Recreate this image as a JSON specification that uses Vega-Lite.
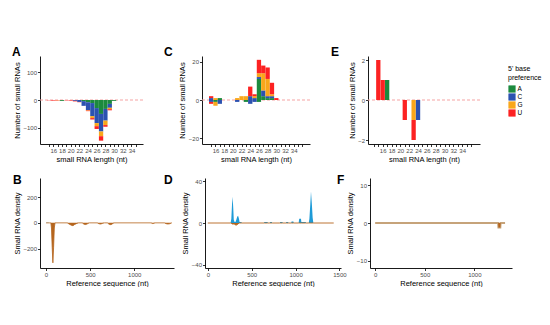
{
  "$schema": "https://vega.github.io/schema/vega-lite/v6.json",
  "background": "white",
  "padding": {"left": 12, "top": 46, "right": 0, "bottom": 0},
  "spacing": 11,
  "datasets": {
    "A": [
      {"len": 15, "base": "U", "n": -1},
      {"len": 16, "base": "U", "n": -2},
      {"len": 17, "base": "G", "n": -1},
      {"len": 17, "base": "U", "n": -1},
      {"len": 18, "base": "A", "n": -3},
      {"len": 19, "base": "U", "n": -1},
      {"len": 20, "base": "U", "n": -2},
      {"len": 21, "base": "C", "n": -3},
      {"len": 21, "base": "U", "n": -2},
      {"len": 22, "base": "C", "n": -7},
      {"len": 22, "base": "U", "n": -1},
      {"len": 23, "base": "A", "n": -4},
      {"len": 23, "base": "C", "n": -17},
      {"len": 24, "base": "A", "n": -8},
      {"len": 24, "base": "C", "n": -28},
      {"len": 24, "base": "G", "n": -2},
      {"len": 24, "base": "U", "n": -2},
      {"len": 25, "base": "A", "n": -11},
      {"len": 25, "base": "C", "n": -47},
      {"len": 25, "base": "G", "n": -7},
      {"len": 25, "base": "U", "n": -5},
      {"len": 26, "base": "A", "n": -29},
      {"len": 26, "base": "C", "n": -54},
      {"len": 26, "base": "G", "n": -11},
      {"len": 26, "base": "U", "n": -10},
      {"len": 27, "base": "A", "n": -50},
      {"len": 27, "base": "C", "n": -63},
      {"len": 27, "base": "G", "n": -17},
      {"len": 27, "base": "U", "n": -16},
      {"len": 28, "base": "A", "n": -32},
      {"len": 28, "base": "C", "n": -42},
      {"len": 28, "base": "G", "n": -16},
      {"len": 28, "base": "U", "n": -6},
      {"len": 29, "base": "A", "n": -14},
      {"len": 29, "base": "C", "n": -14},
      {"len": 29, "base": "G", "n": -5},
      {"len": 29, "base": "U", "n": -4},
      {"len": 30, "base": "A", "n": -3}
    ],
    "C": [
      {"len": 15, "base": "C", "n": 1},
      {"len": 15, "base": "U", "n": 1},
      {"len": 15, "base": "C", "n": -1},
      {"len": 15, "base": "U", "n": -1},
      {"len": 16, "base": "G", "n": 1},
      {"len": 16, "base": "A", "n": -1},
      {"len": 16, "base": "G", "n": -2},
      {"len": 17, "base": "A", "n": 1},
      {"len": 17, "base": "C", "n": -2},
      {"len": 21, "base": "G", "n": 1},
      {"len": 21, "base": "C", "n": -1},
      {"len": 22, "base": "G", "n": 2},
      {"len": 23, "base": "G", "n": 2},
      {"len": 23, "base": "A", "n": -1},
      {"len": 24, "base": "C", "n": 2},
      {"len": 24, "base": "U", "n": 5},
      {"len": 24, "base": "C", "n": -2},
      {"len": 25, "base": "C", "n": 1},
      {"len": 25, "base": "G", "n": 1},
      {"len": 25, "base": "U", "n": 1},
      {"len": 25, "base": "C", "n": -1},
      {"len": 26, "base": "A", "n": 11},
      {"len": 26, "base": "C", "n": 1},
      {"len": 26, "base": "G", "n": 2},
      {"len": 26, "base": "U", "n": 7},
      {"len": 26, "base": "A", "n": -1},
      {"len": 27, "base": "A", "n": 2},
      {"len": 27, "base": "C", "n": 3},
      {"len": 27, "base": "G", "n": 9},
      {"len": 27, "base": "U", "n": 4},
      {"len": 28, "base": "A", "n": 1},
      {"len": 28, "base": "C", "n": 1},
      {"len": 28, "base": "G", "n": 9},
      {"len": 28, "base": "U", "n": 6},
      {"len": 29, "base": "A", "n": 1},
      {"len": 29, "base": "C", "n": 1},
      {"len": 29, "base": "G", "n": 1},
      {"len": 29, "base": "U", "n": 6},
      {"len": 30, "base": "U", "n": 1}
    ],
    "E": [
      {"len": 15, "base": "U", "n": 2},
      {"len": 16, "base": "U", "n": 1},
      {"len": 17, "base": "A", "n": 1},
      {"len": 21, "base": "U", "n": -1},
      {"len": 23, "base": "G", "n": -1},
      {"len": 23, "base": "U", "n": -1},
      {"len": 24, "base": "C", "n": -1}
    ],
    "B": [
      {"x": 0, "pos": 0, "neg": 0},
      {"x": 10, "pos": 3, "neg": 0},
      {"x": 25, "pos": 2, "neg": 0},
      {"x": 40, "pos": 0, "neg": 0},
      {"x": 55, "pos": 0, "neg": 0},
      {"x": 62, "pos": 0, "neg": -40},
      {"x": 70, "pos": 0, "neg": -190},
      {"x": 78, "pos": 0, "neg": -312},
      {"x": 86, "pos": 0, "neg": -190},
      {"x": 94, "pos": 0, "neg": -40},
      {"x": 102, "pos": 0, "neg": 0},
      {"x": 240, "pos": 0, "neg": 0},
      {"x": 260, "pos": 0, "neg": -8},
      {"x": 285, "pos": 0, "neg": -18},
      {"x": 305, "pos": 0, "neg": -22},
      {"x": 325, "pos": 0, "neg": -12},
      {"x": 350, "pos": 0, "neg": -4},
      {"x": 370, "pos": 0, "neg": 0},
      {"x": 410, "pos": 0, "neg": 0},
      {"x": 430, "pos": 0, "neg": -10},
      {"x": 450, "pos": 0, "neg": -13},
      {"x": 470, "pos": 0, "neg": -7},
      {"x": 490, "pos": 0, "neg": 0},
      {"x": 580, "pos": 0, "neg": 0},
      {"x": 600, "pos": 0, "neg": -7},
      {"x": 620, "pos": 0, "neg": -9},
      {"x": 640, "pos": 0, "neg": -4},
      {"x": 660, "pos": 0, "neg": 0},
      {"x": 695, "pos": 0, "neg": 0},
      {"x": 715, "pos": 0, "neg": -11},
      {"x": 735, "pos": 0, "neg": -14},
      {"x": 755, "pos": 0, "neg": -6},
      {"x": 770, "pos": 0, "neg": 0},
      {"x": 1190, "pos": 0, "neg": 0},
      {"x": 1205, "pos": 0, "neg": -5},
      {"x": 1220, "pos": 0, "neg": -4},
      {"x": 1235, "pos": 0, "neg": 0},
      {"x": 1340, "pos": 0, "neg": 0},
      {"x": 1360, "pos": 0, "neg": -6},
      {"x": 1380, "pos": 0, "neg": -9},
      {"x": 1400, "pos": 0, "neg": -7},
      {"x": 1415, "pos": 0, "neg": -3},
      {"x": 1425, "pos": 0, "neg": 0}
    ],
    "D": [
      {"x": 0, "pos": 0, "neg": 0},
      {"x": 260, "pos": 0, "neg": 0},
      {"x": 268, "pos": 4, "neg": 0},
      {"x": 276, "pos": 18, "neg": -1},
      {"x": 283, "pos": 25, "neg": -1},
      {"x": 290, "pos": 14, "neg": -1},
      {"x": 296, "pos": 3, "neg": -1},
      {"x": 305, "pos": 1, "neg": -1},
      {"x": 315, "pos": 1, "neg": -2},
      {"x": 325, "pos": 3, "neg": -2},
      {"x": 335, "pos": 6, "neg": -1.5},
      {"x": 345, "pos": 7, "neg": -1},
      {"x": 355, "pos": 4, "neg": 0},
      {"x": 362, "pos": 1, "neg": 0},
      {"x": 380, "pos": 1, "neg": 0},
      {"x": 390, "pos": 0, "neg": 0},
      {"x": 640, "pos": 0, "neg": 0},
      {"x": 645, "pos": 1, "neg": 0},
      {"x": 680, "pos": 1, "neg": 0},
      {"x": 685, "pos": 0, "neg": 0},
      {"x": 705, "pos": 0, "neg": 0},
      {"x": 710, "pos": 1, "neg": 0},
      {"x": 730, "pos": 1, "neg": 0},
      {"x": 735, "pos": 0, "neg": 0},
      {"x": 820, "pos": 0, "neg": 0},
      {"x": 825, "pos": 1, "neg": 0},
      {"x": 850, "pos": 1, "neg": 0},
      {"x": 855, "pos": 0, "neg": 0},
      {"x": 890, "pos": 0, "neg": 0},
      {"x": 895, "pos": 1, "neg": 0},
      {"x": 915, "pos": 1, "neg": 0},
      {"x": 920, "pos": 0, "neg": 0},
      {"x": 950, "pos": 0, "neg": 0},
      {"x": 955, "pos": 1.5, "neg": 0},
      {"x": 975, "pos": 1.5, "neg": 0},
      {"x": 980, "pos": 0, "neg": 0},
      {"x": 1035, "pos": 0, "neg": 0},
      {"x": 1042, "pos": 4, "neg": 0},
      {"x": 1062, "pos": 4, "neg": 0},
      {"x": 1066, "pos": 1, "neg": 0},
      {"x": 1115, "pos": 1, "neg": 0},
      {"x": 1120, "pos": 0, "neg": 0},
      {"x": 1150, "pos": 0, "neg": 0},
      {"x": 1158, "pos": 4, "neg": 0},
      {"x": 1168, "pos": 18, "neg": 0},
      {"x": 1176, "pos": 30, "neg": 0},
      {"x": 1186, "pos": 18, "neg": 0},
      {"x": 1195, "pos": 5, "neg": 0},
      {"x": 1203, "pos": 0, "neg": 0},
      {"x": 1435, "pos": 0, "neg": 0}
    ],
    "F": [
      {"x": 0, "pos": 0, "neg": 0},
      {"x": 1240, "pos": 0, "neg": 0},
      {"x": 1243, "pos": 0, "neg": -1.2},
      {"x": 1262, "pos": 0, "neg": -1.2},
      {"x": 1265, "pos": 0, "neg": 0},
      {"x": 1310, "pos": 0, "neg": 0}
    ],
    "zero": [{"y": 0}]
  },
  "config": {
    "view": {"stroke": null},
    "font": "Liberation Sans",
    "axis": {
      "domainColor": "#000", "domainWidth": 0.9,
      "tickColor": "#000", "tickWidth": 0.8, "tickSize": 2.5,
      "labelFont": "Liberation Sans", "labelFontSize": 6, "labelColor": "#4d4d4d", "labelPadding": 1,
      "titleFont": "Liberation Sans", "titleFontSize": 7.5, "titleFontWeight": "normal", "titleColor": "#000", "titlePadding": 1.5,
      "grid": false
    },
    "title": {"font": "Liberation Sans", "fontSize": 12, "fontWeight": "bold", "anchor": "start", "frame": "group", "offset": 2, "color": "#000"}
  },
  "vconcat": [
    {
      "spacing": 20,
      "hconcat": [
        {
          "width": 103, "height": 88,
          "title": {"text": "A", "dx": -28, "dy": 5},
          "layer": [
            {"data": {"name": "zero"}, "mark": {"type": "rule", "color": "#f5a3a3", "strokeDash": [3, 2], "strokeWidth": 1}, "encoding": {"y": {"field": "y", "type": "quantitative"}}},
            {
              "data": {"name": "A"},
              "mark": {"type": "bar", "size": 4.3},
              "encoding": {
                "x": {"field": "len", "type": "quantitative", "scale": {"domain": [14.1, 35.5], "nice": false, "zero": false},
                  "axis": {"title": "small RNA length (nt)", "values": [15,16,17,18,19,20,21,22,23,24,25,26,27,28,29,30,31,32,33,34,35], "labelOverlap": false,
                    "labelExpr": "datum.value % 2 == 0 && datum.value >= 16 && datum.value <= 34 ? datum.label : ''"}},
                "y": {"field": "n", "type": "quantitative", "stack": "zero", "scale": {"domain": [-158, 158], "nice": false},
                  "axis": {"title": "Number of small RNAs", "values": [-100, 0, 100]}},
                "color": {"field": "base", "type": "nominal", "scale": {"domain": ["A", "C", "G", "U"], "range": ["#1c8a3e", "#2b52b0", "#f9a71b", "#fc2222"]},
                  "legend": {"orient": "none", "legendX": 468, "legendY": 9, "title": ["5' base", "preference"], "titleFontSize": 7, "titleFontWeight": "normal", "titleColor": "#000", "titlePadding": 4, "titleLineHeight": 9, "labelFontSize": 6.5, "labelColor": "#000", "labelOffset": 1.5, "symbolType": "square", "symbolSize": 52, "symbolStrokeWidth": 0, "symbolOpacity": 1, "rowPadding": 0, "padding": 0}},
                "order": {"field": "base", "sort": "ascending"}
              }
            }
          ]
        },
        {
          "width": 108, "height": 88,
          "title": {"text": "C", "dx": -38, "dy": 5},
          "layer": [
            {"data": {"name": "zero"}, "mark": {"type": "rule", "color": "#f5a3a3", "strokeDash": [3, 2], "strokeWidth": 1}, "encoding": {"y": {"field": "y", "type": "quantitative"}}},
            {
              "data": {"name": "C"},
              "mark": {"type": "bar", "size": 4.3},
              "encoding": {
                "x": {"field": "len", "type": "quantitative", "scale": {"domain": [14.05, 36.6], "nice": false, "zero": false},
                  "axis": {"title": "small RNA length (nt)", "values": [15,16,17,18,19,20,21,22,23,24,25,26,27,28,29,30,31,32,33,34,35,36], "labelOverlap": false,
                    "labelExpr": "datum.value % 2 == 0 && datum.value >= 16 && datum.value <= 34 ? datum.label : ''"}},
                "y": {"field": "n", "type": "quantitative", "stack": "zero", "scale": {"domain": [-23, 23], "nice": false},
                  "axis": {"title": "Number of small RNAs", "values": [-20, -10, 0, 10, 20]}},
                "color": {"field": "base", "type": "nominal", "scale": {"domain": ["A", "C", "G", "U"], "range": ["#1c8a3e", "#2b52b0", "#f9a71b", "#fc2222"]},
                  "legend": {"orient": "none", "legendX": 468, "legendY": 9, "title": ["5' base", "preference"], "titleFontSize": 7, "titleFontWeight": "normal", "titleColor": "#000", "titlePadding": 4, "titleLineHeight": 9, "labelFontSize": 6.5, "labelColor": "#000", "labelOffset": 1.5, "symbolType": "square", "symbolSize": 52, "symbolStrokeWidth": 0, "symbolOpacity": 1, "rowPadding": 0, "padding": 0}},
                "order": {"field": "base", "sort": "ascending"}
              }
            }
          ]
        },
        {
          "width": 112, "height": 88,
          "title": {"text": "E", "dx": -37, "dy": 5},
          "layer": [
            {"data": {"name": "zero"}, "mark": {"type": "rule", "color": "#f5a3a3", "strokeDash": [3, 2], "strokeWidth": 1}, "encoding": {"y": {"field": "y", "type": "quantitative"}}},
            {
              "data": {"name": "E"},
              "mark": {"type": "bar", "size": 4.3},
              "encoding": {
                "x": {"field": "len", "type": "quantitative", "scale": {"domain": [13.8, 36.9], "nice": false, "zero": false},
                  "axis": {"title": "small RNA length (nt)", "values": [14,15,16,17,18,19,20,21,22,23,24,25,26,27,28,29,30,31,32,33,34,35,36], "labelOverlap": false,
                    "labelExpr": "datum.value % 2 == 0 && datum.value >= 16 && datum.value <= 34 ? datum.label : ''"}},
                "y": {"field": "n", "type": "quantitative", "stack": "zero", "scale": {"domain": [-2.2, 2.2], "nice": false},
                  "axis": {"title": "Number of small RNAs", "values": [-2, -1, 0, 1, 2]}},
                "color": {"field": "base", "type": "nominal", "scale": {"domain": ["A", "C", "G", "U"], "range": ["#1c8a3e", "#2b52b0", "#f9a71b", "#fc2222"]},
                  "legend": {"orient": "none", "legendX": 468, "legendY": 9, "title": ["5' base", "preference"], "titleFontSize": 7, "titleFontWeight": "normal", "titleColor": "#000", "titlePadding": 4, "titleLineHeight": 9, "labelFontSize": 6.5, "labelColor": "#000", "labelOffset": 1.5, "symbolType": "square", "symbolSize": 52, "symbolStrokeWidth": 0, "symbolOpacity": 1, "rowPadding": 0, "padding": 0}},
                "order": {"field": "base", "sort": "ascending"}
              }
            }
          ]
        }
      ]
    },
    {
      "spacing": -10,
      "hconcat": [
        {
          "width": 134, "height": 90,
          "title": {"text": "B", "dx": -27, "dy": 11},
          "data": {"name": "B"},
          "encoding": {
            "x": {"field": "x", "type": "quantitative", "scale": {"domain": [-68, 1450], "nice": false, "zero": false},
              "axis": {"title": "Reference sequence (nt)", "values": [0, 500, 1000], "format": "d"}}
          },
          "layer": [
            {"mark": {"type": "area", "color": "#1e9bd7"}, "encoding": {"y": {"field": "pos", "type": "quantitative", "stack": null, "scale": {"domain": [-352, 350], "nice": false}, "axis": {"title": "Small RNA density", "values": [-200, 0, 200]}}}},
            {"mark": {"type": "area", "color": "#b5651d"}, "encoding": {"y": {"field": "neg", "type": "quantitative", "stack": null}}},
            {"mark": {"type": "line", "color": "#b5651d", "strokeWidth": 0.8}, "encoding": {"y": {"field": "neg", "type": "quantitative"}}}
          ]
        },
        {
          "width": 136, "height": 90,
          "title": {"text": "D", "dx": -41, "dy": 11},
          "data": {"name": "D"},
          "encoding": {
            "x": {"field": "x", "type": "quantitative", "scale": {"domain": [-32, 1518], "nice": false, "zero": false},
              "axis": {"title": "Reference sequence (nt)", "values": [0, 500, 1000, 1500], "format": "d"}}
          },
          "layer": [
            {"mark": {"type": "area", "color": "#1e9bd7"}, "encoding": {"y": {"field": "pos", "type": "quantitative", "stack": null, "scale": {"domain": [-43, 43], "nice": false}, "axis": {"title": "Small RNA density", "values": [-40, -20, 0, 20, 40]}}}},
            {"mark": {"type": "area", "color": "#b5651d"}, "encoding": {"y": {"field": "neg", "type": "quantitative", "stack": null}}},
            {"mark": {"type": "line", "color": "#b5651d", "strokeWidth": 0.9}, "encoding": {"y": {"field": "neg", "type": "quantitative"}}}
          ]
        },
        {
          "width": 142, "height": 90,
          "title": {"text": "F", "dx": -33, "dy": 11},
          "data": {"name": "F"},
          "encoding": {
            "x": {"field": "x", "type": "quantitative", "scale": {"domain": [-52, 1380], "nice": false, "zero": false},
              "axis": {"title": "Reference sequence (nt)", "values": [0, 500, 1000], "format": "d"}}
          },
          "layer": [
            {"mark": {"type": "area", "color": "#1e9bd7"}, "encoding": {"y": {"field": "pos", "type": "quantitative", "stack": null, "scale": {"domain": [-11.9, 11.9], "nice": false}, "axis": {"title": "Small RNA density", "values": [-10, -5, 0, 5, 10]}}}},
            {"mark": {"type": "line", "color": "#c6a37a", "strokeWidth": 2}, "encoding": {"y": {"field": "neg", "type": "quantitative"}}},
            {"mark": {"type": "area", "color": "#b5651d"}, "encoding": {"y": {"field": "neg", "type": "quantitative", "stack": null}}}
          ]
        }
      ]
    }
  ]
}
